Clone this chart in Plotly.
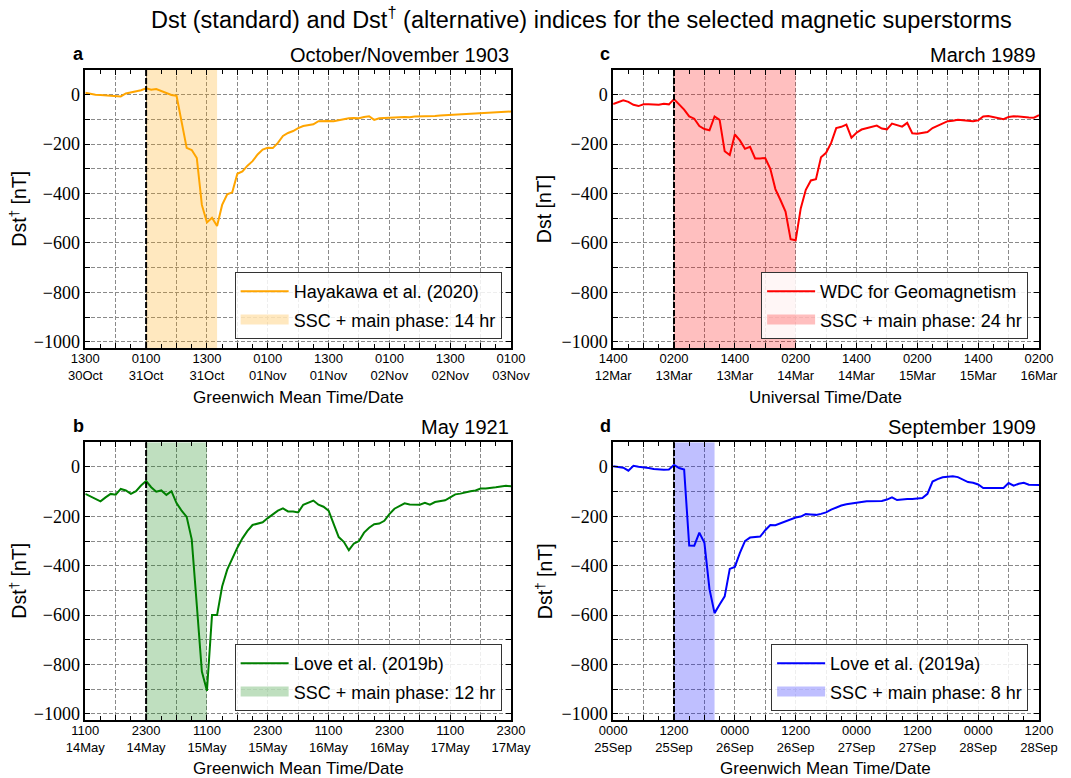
import plotly.graph_objects as go

# ---------------- data ----------------
hours = list(range(85))  # hours since the first tick of each panel

# a: October/November 1903 (Hayakawa et al. 2020), start 1300 30Oct
dst_1903 = [8, 3, 0, -1, -3, -5, -7, -7, 5, 10,
            12, 18, 26, 20, 23, 15, 7, -1, -4, -110,
            -215, -224, -256, -446, -517, -498, -531, -446, -403, -395,
            -320, -310, -287, -269, -242, -222, -215, -216, -195, -167,
            -155, -147, -135, -127, -125, -120, -107, -105, -106, -107,
            -102, -98, -95, -94, -95, -90, -87, -102, -95, -94,
            -92, -92, -91, -90, -91, -88, -88, -87, -86, -86,
            -84, -83, -82, -82, -80, -80, -79, -78, -75, -75,
            -73, -72, -72, -69, -68]

# c: March 1989 (WDC for Geomagnetism), start 1400 12Mar
dst_1989 = [-38, -29, -23, -29, -41, -46, -39, -39, -39, -41,
            -37, -39, -18, -37, -60, -88, -97, -127, -139, -144,
            -88, -102, -229, -244, -161, -185, -219, -211, -258, -258,
            -256, -300, -382, -426, -473, -585, -589, -460, -385, -347,
            -342, -253, -235, -195, -135, -130, -121, -174, -154, -141,
            -136, -130, -125, -137, -140, -117, -123, -129, -114, -156,
            -158, -154, -151, -135, -126, -119, -107, -105, -101, -103,
            -105, -107, -104, -88, -86, -90, -95, -99, -90, -87,
            -88, -91, -92, -93, -83]

# b: May 1921 (Love et al. 2019b), start 1100 14May
dst_1921 = [-109, -119, -130, -139, -123, -109, -112, -89, -95, -109,
            -98, -75, -57, -82, -100, -95, -113, -98, -146, -177,
            -202, -293, -559, -829, -907, -600, -600, -484, -416, -368,
            -327, -289, -259, -235, -228, -224, -207, -191, -177, -168,
            -180, -180, -184, -153, -145, -136, -153, -161, -177, -232,
            -284, -303, -337, -310, -300, -266, -246, -232, -229, -218,
            -191, -169, -158, -147, -152, -154, -153, -145, -153, -142,
            -138, -135, -123, -111, -108, -102, -98, -95, -87, -87,
            -86, -82, -79, -76, -78]

# d: September 1909 (Love et al. 2019a), start 0000 25Sep
dst_1909 = [3, 1, -3, -15, 5, 1, 0, -4, -8, -11,
            -11, -10, 8, -4, -10, -318, -319, -266, -307, -495,
            -592, -557, -524, -413, -405, -348, -300, -286, -284, -282,
            -256, -235, -236, -228, -222, -214, -205, -201, -191, -192,
            -194, -190, -184, -173, -164, -156, -151, -147, -146, -142,
            -139, -138, -136, -138, -132, -123, -134, -131, -130, -130,
            -128, -126, -109, -59, -49, -42, -40, -38, -41, -50,
            -61, -64, -71, -85, -85, -82, -85, -85, -65, -76,
            -68, -64, -72, -73, -73]

ssc_hour = 12
main_phase_hr = {"a": 14, "b": 12, "c": 24, "d": 8}

times_a = ["1300", "0100", "1300", "0100", "1300", "0100", "1300", "0100"]
dates_a = ["30Oct", "31Oct", "31Oct", "01Nov", "01Nov", "02Nov", "02Nov", "03Nov"]
times_c = ["1400", "0200", "1400", "0200", "1400", "0200", "1400", "0200"]
dates_c = ["12Mar", "13Mar", "13Mar", "14Mar", "14Mar", "15Mar", "15Mar", "16Mar"]
times_b = ["1100", "2300", "1100", "2300", "1100", "2300", "1100", "2300"]
dates_b = ["14May", "14May", "15May", "15May", "16May", "16May", "17May", "17May"]
times_d = ["0000", "1200", "0000", "1200", "0000", "1200", "0000", "1200"]
dates_d = ["25Sep", "25Sep", "26Sep", "26Sep", "27Sep", "27Sep", "28Sep", "28Sep"]

y_ticks = [-1000, -800, -600, -400, -200, 0]
y_labels = ["\u22121000", "\u2212800", "\u2212600", "\u2212400", "\u2212200", "0"]

# ---------------- layout helpers ----------------
W, H = 1071, 778
ML, MR, MT, MB = 85, 22, 70, 58
PW, PH = W - ML - MR, H - MT - MB
YMIN, YMAX = -1025, 100
SANS = "Liberation Sans"
SERIF = "Liberation Serif"


def px2x(px):   # window pixel -> paper x
    return (px - ML) / PW


def px2y(py):   # window pixel -> paper y
    return (H - MB - py) / PH


dom_left = [px2x(85.3), px2x(515.5)]
dom_right = [px2x(618.7), px2x(1049)]
dom_top = [px2y(348), px2y(70)]
dom_bot = [px2y(720), px2y(442.3)]

GRID = dict(showgrid=True, gridcolor="#8a8a8a", gridwidth=1, griddash="4px,2px")


def xaxis_cfg(dom, anchor, times, dates):
    labels = [t + "<br>" + d for t, d in zip(times, dates)]
    tv = list(range(0, 85, 6))
    tt = [labels[v // 12] if v % 12 == 0 else "" for v in tv]
    return dict(domain=dom, anchor=anchor, range=[0, 84], tickmode="array",
                tickvals=tv, ticktext=tt, ticks="inside", ticklen=5, tickwidth=1,
                tickcolor="black", showline=True, linecolor="black", linewidth=1.6,
                mirror="ticks", zeroline=False, ticklabelstandoff=-2,
                tickfont=dict(family=SANS, size=13, color="black"),
                minor=dict(tickvals=list(range(3, 84, 6)), ticks="inside", ticklen=4,
                           tickcolor="black", showgrid=False),
                **GRID)


def yaxis_cfg(dom, anchor):
    tv = list(range(-1000, 1, 100))
    tt = [y_labels[y_ticks.index(v)] if v in y_ticks else "" for v in tv]
    return dict(domain=dom, anchor=anchor, range=[YMIN, YMAX], tickmode="array",
                tickvals=tv, ticktext=tt, ticks="inside", ticklen=5, tickwidth=1,
                tickcolor="black", showline=True, linecolor="black", linewidth=1.6,
                mirror="ticks", zeroline=False,
                tickfont=dict(family=SERIF, size=18, color="black"),
                **GRID)


panels = [
    # key, xaxis, yaxis, legend, data, color, shade, name
    ("a", "x", "y", "legend", dst_1903, "#FFA500", "rgba(255,165,0,0.25)", "Hayakawa et al. (2020)"),
    ("c", "x2", "y2", "legend2", dst_1989, "#FF0000", "rgba(255,0,0,0.25)", "WDC for Geomagnetism"),
    ("b", "x3", "y3", "legend3", dst_1921, "#008000", "rgba(0,128,0,0.25)", "Love et al. (2019b)"),
    ("d", "x4", "y4", "legend4", dst_1909, "#0000FF", "rgba(0,0,255,0.25)", "Love et al. (2019a)"),
]

fig = go.Figure()
shapes = []
for key, xa, ya, lg, data, col, shade, name in panels:
    end = ssc_hour + main_phase_hr[key]
    # SSC + main phase shading
    fig.add_trace(go.Scatter(
        x=[ssc_hour, end, end, ssc_hour, ssc_hour], y=[YMIN, YMIN, YMAX, YMAX, YMIN],
        fill="toself", fillcolor=shade, mode="lines", line=dict(width=0),
        showlegend=False, xaxis=xa, yaxis=ya, hoverinfo="skip"))
    # Dst series
    fig.add_trace(go.Scatter(
        x=hours, y=data, mode="lines", line=dict(color=col, width=2),
        name=name, xaxis=xa, yaxis=ya, legend=lg, legendrank=1,
        legendgroup=key + "1"))
    # legend patch for the shading (no data points)
    fig.add_trace(go.Scatter(
        x=[None], y=[None], mode="lines", line=dict(color=shade, width=15),
        name="SSC + main phase: %d hr" % main_phase_hr[key],
        xaxis=xa, yaxis=ya, legend=lg, legendrank=2, legendgroup=key + "2",
        hoverinfo="skip"))
    shapes.append(dict(type="line", xref=xa, yref=ya + " domain", x0=ssc_hour, x1=ssc_hour,
                       y0=0, y1=1, line=dict(color="black", width=2, dash="6px,2px")))

layout = dict(
    width=W, height=H, margin=dict(l=ML, r=MR, t=MT, b=MB),
    paper_bgcolor="white", plot_bgcolor="white", showlegend=True, hovermode=False,
    xaxis=xaxis_cfg(dom_left, "y", times_a, dates_a),
    yaxis=yaxis_cfg(dom_top, "x"),
    xaxis2=xaxis_cfg(dom_right, "y2", times_c, dates_c),
    yaxis2=yaxis_cfg(dom_top, "x2"),
    xaxis3=xaxis_cfg(dom_left, "y3", times_b, dates_b),
    yaxis3=yaxis_cfg(dom_bot, "x3"),
    xaxis4=xaxis_cfg(dom_right, "y4", times_d, dates_d),
    yaxis4=yaxis_cfg(dom_bot, "x4"),
    shapes=shapes,
)


def legend_cfg(right_px, bottom_px):
    return dict(x=px2x(right_px), y=px2y(bottom_px), xanchor="right", yanchor="bottom",
                bgcolor="rgba(255,255,255,0.85)", bordercolor="#333333", borderwidth=1,
                font=dict(family=SANS, size=18, color="black"), itemwidth=48,
                traceorder="grouped", tracegroupgap=2)


layout["legend"] = legend_cfg(506, 339)
layout["legend2"] = legend_cfg(1038, 339)
layout["legend3"] = legend_cfg(506, 711)
layout["legend4"] = legend_cfg(1038, 711)

ann = []


def text(px, py, s, size, family=SANS, xanchor="center", angle=0):
    ann.append(dict(x=px2x(px), y=px2y(py), xref="paper", yref="paper", text=s,
                    showarrow=False, xanchor=xanchor, yanchor="middle", textangle=angle,
                    font=dict(family=family, size=size, color="black")))


text(587, 18, "Dst (standard) and Dst<sup>\u2020</sup> (alternative) indices for the selected magnetic superstorms", 23.5)
text(78, 54, "<b>a</b>", 18)
text(610.5, 54, "<b>c</b>", 18)
text(78, 426, "<b>b</b>", 18)
text(610.5, 426, "<b>d</b>", 18)
text(515.5, 55, "October/November 1903", 20, xanchor="right")
text(1048, 55, "March 1989", 20, xanchor="right")
text(515.5, 427, "May 1921", 20, xanchor="right")
text(1048, 427, "September 1909", 20, xanchor="right")
text(17, 209, "Dst<sup>\u2020</sup> [nT]", 19.5, angle=-90)
text(549, 209, "Dst [nT]", 19.5, angle=-90)
text(17, 581, "Dst<sup>\u2020</sup> [nT]", 19.5, angle=-90)
text(549, 581, "Dst<sup>\u2020</sup> [nT]", 19.5, angle=-90)
text(300.4, 397, "Greenwich Mean Time/Date", 17)
text(833.6, 397, "Universal Time/Date", 17)
text(300.4, 768, "Greenwich Mean Time/Date", 17)
text(833.6, 768, "Greenwich Mean Time/Date", 17)
layout["annotations"] = ann

fig.update_layout(**layout)
# the page body's default 8px margin would push the 1071x778 figure off the window
fig.write_html("out.html", config={"displayModeBar": False},
               post_script="document.body.style.margin='0px';")
